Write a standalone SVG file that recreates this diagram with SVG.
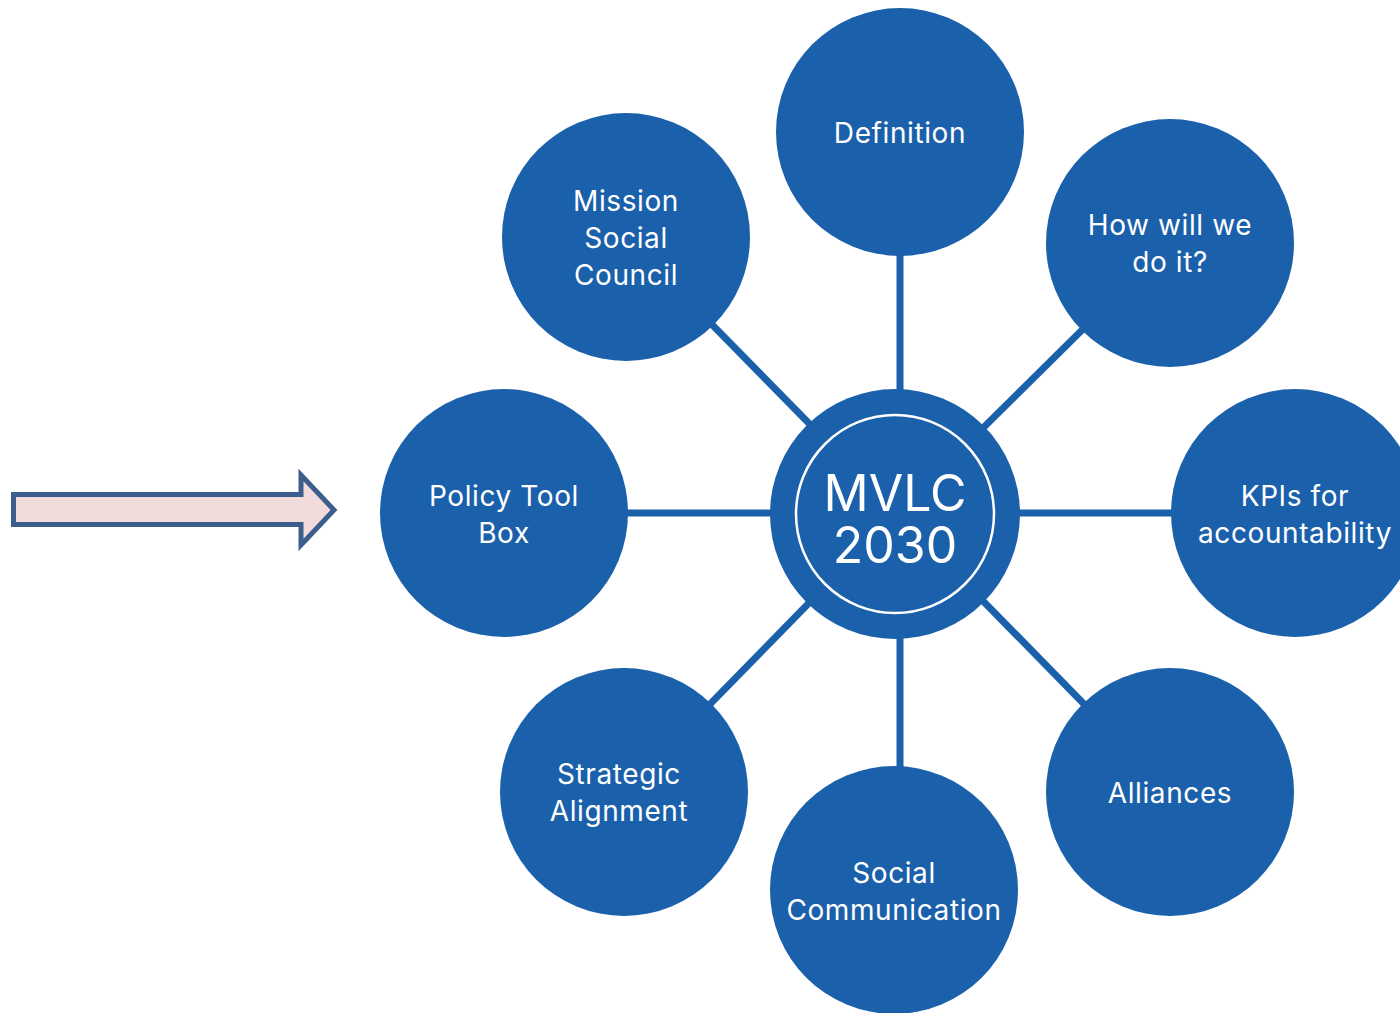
<svg xmlns="http://www.w3.org/2000/svg" width="1400" height="1013" viewBox="0 0 1400 1013">
<style>
.n{fill:#1b60ab}
.t{fill:#ffffff;font-family:Inter,"Noto Sans","Liberation Sans",sans-serif;font-size:28px;letter-spacing:0.6px;text-anchor:middle}
.big{font-size:50px;letter-spacing:0px}
.c{stroke:#1b60ab;stroke-width:7;fill:none}
</style>
<rect width="1400" height="1013" fill="#ffffff"/>
<g id="arrow">
<polygon points="13.5,494.5 301,494.5 301,475 334,510 301,545 301,524.5 13.5,524.5" fill="#f2dcdb" stroke="#3b5e8c" stroke-width="5" stroke-linejoin="miter"/>
</g>
<g id="connectors">
<line class="c" x1="900" y1="132" x2="900" y2="513"/>
<line class="c" x1="900" y1="513" x2="900" y2="890"/>
<line class="c" x1="504" y1="513" x2="1295" y2="513"/>
<line class="c" x1="626" y1="237" x2="897" y2="513"/>
<line class="c" x1="1170" y1="243" x2="897" y2="513"/>
<line class="c" x1="624" y1="792" x2="897" y2="513"/>
<line class="c" x1="1170" y1="792" x2="897" y2="513"/>
</g>
<g id="center">
<circle class="n" cx="895" cy="514" r="125"/>
<circle cx="895" cy="514" r="99" fill="none" stroke="#ffffff" stroke-width="2.5"/>
<text class="t big" x="895" y="511">MVLC</text>
<text class="t big" x="895" y="563">2030</text>
</g>
<g id="definition">
<circle class="n" cx="900" cy="132" r="124"/>
<text class="t" x="900" y="143">Definition</text>
</g>
<g id="how">
<circle class="n" cx="1170" cy="243" r="124"/>
<text class="t" x="1170" y="235">How will we</text>
<text class="t" x="1170" y="272">do it?</text>
</g>
<g id="kpis">
<circle class="n" cx="1295" cy="513" r="124"/>
<text class="t" x="1295" y="506">KPIs for</text>
<text class="t" x="1295" y="543">accountability</text>
</g>
<g id="alliances">
<circle class="n" cx="1170" cy="792" r="124"/>
<text class="t" x="1170" y="803">Alliances</text>
</g>
<g id="social-communication">
<circle class="n" cx="894" cy="890" r="124"/>
<text class="t" x="894" y="883">Social</text>
<text class="t" x="894" y="920">Communication</text>
</g>
<g id="strategic">
<circle class="n" cx="624" cy="792" r="124"/>
<text class="t" x="619" y="784">Strategic</text>
<text class="t" x="619" y="821">Alignment</text>
</g>
<g id="policy">
<circle class="n" cx="504" cy="513" r="124"/>
<text class="t" x="504" y="506">Policy Tool</text>
<text class="t" x="504" y="543">Box</text>
</g>
<g id="mission">
<circle class="n" cx="626" cy="237" r="124"/>
<text class="t" x="626" y="211">Mission</text>
<text class="t" x="626" y="248">Social</text>
<text class="t" x="626" y="285">Council</text>
</g>
</svg>
